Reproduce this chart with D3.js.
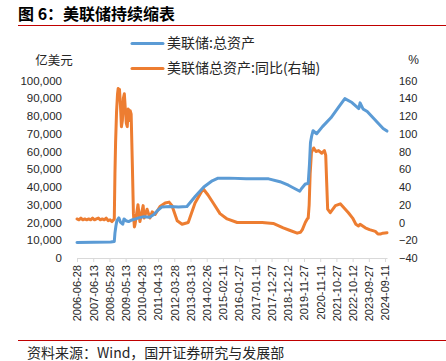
<!DOCTYPE html>
<html><head><meta charset="utf-8">
<script src="https://cdn.jsdelivr.net/npm/d3@7"></script>
<style>
body{margin:0;background:#fff;}
svg{display:block;}
</style></head>
<body>
<svg id="chart" width="446" height="361"></svg>
<script>
const titleText = "图 6：美联储持续缩表";
const sourceText = "资料来源：Wind，国开证券研究与发展部";
const seriesNames = ["美联储:总资产", "美联储总资产:同比(右轴)"];
const leftUnit = "亿美元";
const rightUnit = "%";
const xTickLabels = ["2006-06-28","2007-06-13","2008-05-28","2009-05-13","2010-04-28","2011-04-13","2012-03-28","2013-03-13","2014-02-26","2015-02-11","2016-01-27","2017-01-11","2017-12-27","2018-12-12","2019-11-27","2020-11-11","2021-10-27","2022-10-12","2023-09-27","2024-09-11"];
const leftTicks = [0,10000,20000,30000,40000,50000,60000,70000,80000,90000,100000];
const rightTicks = [-40,-20,0,20,40,60,80,100,120,140,160];

// 美联储:总资产 (亿美元)
const assetDates = ["2006-06-28","2007-06-27","2008-06-25","2008-09-10","2008-09-24","2008-10-15","2008-11-05","2008-12-17","2009-01-21","2009-03-11","2009-04-08","2009-05-20","2009-07-15","2009-09-09","2009-11-18","2010-02-17","2010-06-16","2010-10-13","2011-01-12","2011-04-13","2011-06-29","2011-12-28","2012-06-27","2012-12-26","2013-06-26","2013-12-25","2014-06-25","2014-10-29","2015-06-24","2016-06-29","2017-06-28","2017-10-25","2018-06-27","2018-12-26","2019-08-28","2019-10-02","2019-12-25","2020-02-26","2020-03-25","2020-04-15","2020-05-13","2020-06-10","2020-08-26","2020-12-30","2021-06-30","2021-12-29","2022-04-27","2022-09-28","2023-02-22","2023-03-22","2023-05-24","2023-08-23","2023-12-27","2024-07-31","2024-10-23"];
const assetValues = [8700,8900,9000,9300,14000,18000,21000,22600,20200,19000,22000,21000,20500,21300,21800,22600,23300,23000,24500,27000,28700,29000,28800,29000,34800,40000,43500,45000,45000,44700,44700,44600,43000,41000,37600,39000,41700,42000,53000,65000,69000,71700,70000,74000,79000,85500,89800,87600,84200,87400,84000,82500,79000,73000,71500];

// 美联储总资产:同比 (%)
const yoyDates = ["2006-06-28","2006-08-09","2006-09-20","2006-11-01","2006-12-13","2007-01-24","2007-03-07","2007-04-18","2007-05-30","2007-07-11","2007-08-22","2007-10-03","2007-11-14","2007-12-26","2008-02-06","2008-03-19","2008-04-30","2008-06-11","2008-07-23","2008-09-10","2008-09-24","2008-10-08","2008-10-29","2008-11-19","2008-12-03","2008-12-17","2008-12-31","2009-01-21","2009-02-11","2009-03-04","2009-03-25","2009-04-15","2009-05-06","2009-05-27","2009-06-17","2009-07-08","2009-07-29","2009-08-19","2009-09-09","2009-10-07","2009-10-28","2009-11-18","2009-12-02","2010-02-03","2010-03-17","2010-05-26","2010-06-16","2010-08-18","2010-10-20","2010-12-08","2011-02-09","2011-05-25","2011-09-14","2011-12-07","2012-02-08","2012-05-30","2012-09-12","2013-01-23","2013-06-19","2013-12-11","2014-03-26","2014-07-16","2014-12-10","2015-05-13","2015-12-16","2016-09-21","2017-06-07","2018-02-01","2018-09-05","2019-02-01","2019-07-03","2019-09-11","2019-10-23","2019-12-25","2020-02-05","2020-02-26","2020-03-18","2020-04-08","2020-05-06","2020-06-24","2020-08-12","2020-10-07","2020-12-16","2021-02-10","2021-03-10","2021-03-31","2021-04-21","2021-06-16","2021-10-06","2022-01-19","2022-07-13","2022-10-12","2022-12-21","2023-02-15","2023-03-22","2023-07-12","2023-10-11","2024-02-14","2024-04-10","2024-06-01","2024-07-24","2024-10-23"];
const yoyValues = [4,3,5,3,4,3,4,3,5,3,4,5,3,4,3,5,2,3,1,4,55,90,125,145,151,148,150,132,108,115,140,145,128,112,108,128,115,126,122,60,10,-5,-2,20,1,19,5,15,5,12,9,18,22,23,19,2,-2,0,22,38,31,22,10,4,0,0,0,-1,-6,-9,-12,-11,-8,0,4,5,20,55,79,84,80,81,78,81,76,45,15,11,19,21,11,5,-2,-4,-2,-6,-8,-10,-13,-13,-12,-11.5];

const parse = d3.timeParse("%Y-%m-%d");
const svg = d3.select("#chart");
const LATIN = "'Liberation Sans', Arial, sans-serif";
const CJK = "'Noto Sans CJK SC', sans-serif";
const BLUE = "#5B9BD5", ORANGE = "#ED7D31", RED = "#C00000", TXT = "#262626";

svg.append("rect").attr("width",446).attr("height",361).attr("fill","#fff");

// Title
svg.append("text").attr("x",18).attr("y",20).attr("font-family",CJK).attr("font-weight","bold")
  .attr("font-size",16).attr("fill","#000").text(titleText);
svg.append("line").attr("x1",18).attr("x2",446).attr("y1",25.5).attr("y2",25.5).attr("stroke",RED).attr("stroke-width",1.2);

// Scales
const x = d3.scaleTime().domain([parse("2006-06-28"), parse("2024-10-23")]).range([77, 387]);
const yL = d3.scaleLinear().domain([0,100000]).range([258, 80.5]);
const yR = d3.scaleLinear().domain([-40,160]).range([258, 80.5]);

// Left axis
const gL = svg.append("g").attr("transform","translate(66,0)")
  .call(d3.axisLeft(yL).tickValues(leftTicks).tickFormat(d3.format(",")).tickSize(0).tickPadding(4));
gL.select(".domain").remove();
gL.selectAll("text").attr("font-family",LATIN).attr("font-size",11.5).attr("fill",TXT);

// Right axis
const gR = svg.append("g").attr("transform","translate(395,0)")
  .call(d3.axisRight(yR).tickValues(rightTicks).tickSize(0).tickPadding(4));
gR.select(".domain").remove();
gR.selectAll("text").attr("font-family",LATIN).attr("font-size",11).attr("fill",TXT);

// X axis
const gX = svg.append("g").attr("transform","translate(0,258)")
  .call(d3.axisBottom(x).tickValues(xTickLabels.map(parse)).tickFormat(d3.timeFormat("%Y-%m-%d")).tickSize(4).tickSizeOuter(0));
gX.select(".domain").attr("stroke","#d9d9d9");
gX.selectAll(".tick line").attr("stroke","#d9d9d9");
gX.selectAll("text").attr("font-family",LATIN).attr("font-size",11).attr("fill",TXT)
  .attr("transform","rotate(-90)").attr("text-anchor","end").attr("x",-7).attr("y",0).attr("dy","0.35em");

// Unit labels
svg.append("text").attr("x",54).attr("y",65).attr("text-anchor","middle").attr("font-family",CJK)
  .attr("font-size",12.5).attr("fill",TXT).text(leftUnit);
svg.append("text").attr("x",413.5).attr("y",64).attr("text-anchor","middle").attr("font-family",LATIN)
  .attr("font-size",12).attr("fill",TXT).text(rightUnit);

// Lines
const lineL = d3.line().x(d => x(d[0])).y(d => yL(d[1]));
const lineR = d3.line().x(d => x(d[0])).y(d => yR(d[1]));
const assetData = assetDates.map((d,i) => [parse(d), assetValues[i]]);
const yoyData = yoyDates.map((d,i) => [parse(d), yoyValues[i]]);

svg.append("path").datum(yoyData).attr("d",lineR).attr("fill","none").attr("stroke",ORANGE)
  .attr("stroke-width",3).attr("stroke-linejoin","round").attr("stroke-linecap","round");
svg.append("path").datum(assetData).attr("d",lineL).attr("fill","none").attr("stroke",BLUE)
  .attr("stroke-width",3).attr("stroke-linejoin","round").attr("stroke-linecap","round");

// Legend
const legend = [[seriesNames[0], BLUE, 43.5],[seriesNames[1], ORANGE, 68.5]];
legend.forEach(([name,color,y]) => {
  svg.append("line").attr("x1",132).attr("x2",163).attr("y1",y).attr("y2",y).attr("stroke",color).attr("stroke-width",3).attr("stroke-linecap","round");
  svg.append("text").attr("x",167).attr("y",y).attr("dy","0.35em").attr("font-family",CJK)
    .attr("font-size",14).attr("fill",TXT).text(name);
});

// Source
svg.append("line").attr("x1",18).attr("x2",446).attr("y1",340.5).attr("y2",340.5).attr("stroke",RED).attr("stroke-width",1.2);
svg.append("text").attr("x",27).attr("y",353).attr("dy","0.35em").attr("font-family",CJK)
  .attr("font-size",14).attr("fill",TXT).text(sourceText);
</script>
</body></html>
